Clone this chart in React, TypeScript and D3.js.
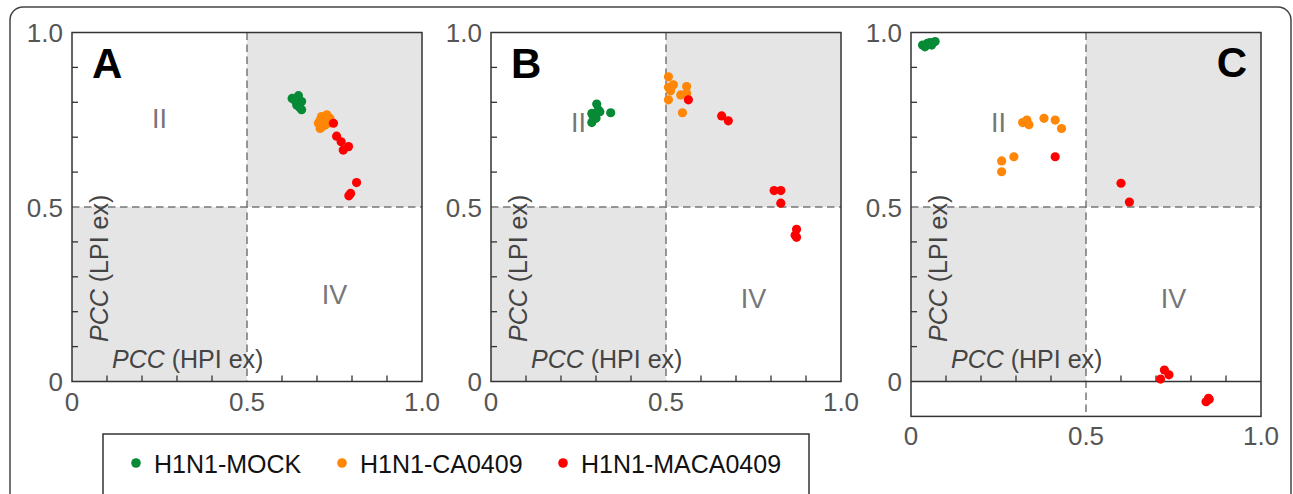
import { useMemo } from "react";
import * as d3 from "d3";

// series order: MOCK, CA0409, MACA0409
const SERIES = ["H1N1-MOCK", "H1N1-CA0409", "H1N1-MACA0409"];
const COLORS = ["#078a36", "#ff8606", "#ff0000"];

// panel A : [PCC HPI ex, PCC LPI ex]
const aMock = [[0.629, 0.811], [0.647, 0.819], [0.656, 0.802], [0.642, 0.792], [0.656, 0.779], [0.637, 0.805], [0.650, 0.786]];
const aCa = [[0.709, 0.725], [0.704, 0.740], [0.713, 0.759], [0.728, 0.764], [0.737, 0.754], [0.723, 0.735], [0.709, 0.749], [0.718, 0.745], [0.732, 0.740], [0.715, 0.730], [0.725, 0.752]];
const aMaca = [[0.747, 0.740], [0.756, 0.703], [0.769, 0.687], [0.775, 0.663], [0.790, 0.673], [0.813, 0.570], [0.796, 0.539], [0.791, 0.532]];

// panel B
const bMock = [[0.302, 0.795], [0.288, 0.768], [0.292, 0.759], [0.307, 0.778], [0.311, 0.773], [0.288, 0.742], [0.342, 0.770], [0.297, 0.765], [0.300, 0.754]];
const bCa = [[0.507, 0.873], [0.507, 0.843], [0.521, 0.850], [0.513, 0.833], [0.559, 0.845], [0.559, 0.826], [0.542, 0.821], [0.507, 0.807], [0.547, 0.770]];
const bMaca = [[0.564, 0.807], [0.659, 0.761], [0.678, 0.747], [0.809, 0.547], [0.828, 0.547], [0.828, 0.511], [0.873, 0.436], [0.869, 0.419], [0.873, 0.413]];

// panel C
const cMock = [[0.033, 0.964], [0.047, 0.969], [0.059, 0.964], [0.069, 0.974], [0.040, 0.959], [0.054, 0.971]];
const cCa = [[0.259, 0.632], [0.259, 0.601], [0.294, 0.644], [0.319, 0.742], [0.331, 0.749], [0.337, 0.736], [0.380, 0.754], [0.412, 0.749], [0.430, 0.725]];
const cMaca = [[0.412, 0.644], [0.600, 0.568], [0.624, 0.514], [0.713, 0.007], [0.724, 0.033], [0.737, 0.019], [0.843, -0.058], [0.850, -0.048], [0.852, -0.051]];

const PANEL_LETTERS = ["A", "B", "C"];
const Y_MIN = [0, 0, -0.1];
const PANEL_DATA = [
  [aMock, aCa, aMaca],
  [bMock, bCa, bMaca],
  [cMock, cCa, cMaca],
];
// quadrant label spots, in data units
const QUAD_II = [[0.25, 0.726], [0.25, 0.716], [0.25, 0.716]];
const QUAD_IV = [[0.75, 0.222], [0.75, 0.212], [0.75, 0.212]];

const MAJOR = [0, 0.5, 1];
const MAJOR_LABELS = ["0", "0.5", "1.0"];
const MINOR = [0.1, 0.2, 0.3, 0.4, 0.6, 0.7, 0.8, 0.9];

const PANEL_X = [72, 491, 911];
const PW = 350;
const TOP = 32.5;
const ZERO_Y = 381.5;
const FONT = "'Liberation Sans', Arial, sans-serif";

const Panel = ({ idx }: { idx: number }) => {
  const left = PANEL_X[idx];
  const x = useMemo(() => d3.scaleLinear().domain([0, 1]).range([left, left + PW]), [left]);
  const y = useMemo(() => d3.scaleLinear().domain([0, 1]).range([ZERO_Y, TOP]), []);
  const yMin = Y_MIN[idx];
  const bottom = y(yMin);
  const xAxisY = y(0);
  const data = PANEL_DATA[idx];

  return (
    <g>
      {/* shaded quadrants I and III */}
      <rect x={x(0.5)} y={y(1)} width={x(1) - x(0.5)} height={y(0.5) - y(1)} fill="#e5e5e5" />
      <rect x={x(0)} y={y(0.5)} width={x(0.5) - x(0)} height={y(0) - y(0.5)} fill="#e5e5e5" />

      {/* dashed dividers */}
      <line x1={x(0.5)} x2={x(0.5)} y1={y(1)} y2={bottom} stroke="#777" strokeWidth={1.5} strokeDasharray="7.5,4.5" />
      <line x1={x(0)} x2={x(1)} y1={y(0.5)} y2={y(0.5)} stroke="#777" strokeWidth={1.5} strokeDasharray="7.5,4.5" />

      {/* zero line when the axis goes below 0 */}
      {yMin < 0 && <line x1={x(0)} x2={x(1)} y1={xAxisY} y2={xAxisY} stroke="#333" strokeWidth={1.4} />}

      {/* minor ticks */}
      {MINOR.map((v) => (
        <line key={"yt" + v} x1={x(0)} x2={x(0) + 6} y1={y(v)} y2={y(v)} stroke="#333" strokeWidth={1.3} />
      ))}
      {MINOR.map((v) => (
        <line key={"xt" + v} x1={x(v)} x2={x(v)} y1={xAxisY} y2={xAxisY - 6} stroke="#333" strokeWidth={1.3} />
      ))}

      {/* frame */}
      <rect x={x(0)} y={y(1)} width={PW} height={bottom - y(1)} fill="none" stroke="#333" strokeWidth={1.5} />

      {/* tick labels */}
      {MAJOR.map((v, i) => (
        <text key={"yl" + v} x={x(0) - 9} y={y(v) + 9.5} textAnchor="end" fontSize={26} fill="#555" fontFamily={FONT}>
          {MAJOR_LABELS[i]}
        </text>
      ))}
      {MAJOR.map((v, i) => (
        <text key={"xl" + v} x={x(v)} y={bottom + 29} textAnchor="middle" fontSize={26} fill="#555" fontFamily={FONT}>
          {MAJOR_LABELS[i]}
        </text>
      ))}

      {/* quadrant labels */}
      <text x={x(QUAD_II[idx][0])} y={y(QUAD_II[idx][1])} textAnchor="middle" fontSize={27} fill="#777" fontFamily={FONT}>II</text>
      <text x={x(QUAD_IV[idx][0])} y={y(QUAD_IV[idx][1])} textAnchor="middle" fontSize={27} fill="#777" fontFamily={FONT}>IV</text>

      {/* axis titles */}
      <text x={left + 40} y={368} fontSize={25} fill="#444" fontFamily={FONT}>
        <tspan fontStyle="italic">PCC</tspan> (HPI ex)
      </text>
      <text transform={`translate(${left + 36},342) rotate(-90)`} fontSize={25} fill="#444" fontFamily={FONT}>
        <tspan fontStyle="italic">PCC</tspan> (LPI ex)
      </text>

      {/* points */}
      {data.map((pts, s) =>
        pts.map((p, j) => (
          <circle key={s + "-" + j} cx={x(p[0])} cy={y(p[1])} r={4.6} fill={COLORS[s]} />
        ))
      )}

      {/* panel letter */}
      {idx < 2 ? (
        <text x={left + 20} y={78} fontSize={42} fontWeight="bold" fill="#000" fontFamily={FONT}>{PANEL_LETTERS[idx]}</text>
      ) : (
        <text x={left + PW - 14} y={77} textAnchor="end" fontSize={42} fontWeight="bold" fill="#000" fontFamily={FONT}>{PANEL_LETTERS[idx]}</text>
      )}
    </g>
  );
};

const LEGEND_DOT_X = [136, 342, 563];

export default function App() {
  return (
    <svg width={1293} height={494} style={{ position: "absolute", left: 0, top: 0, background: "#fff" }}>
      <rect x={10} y={7} width={1281} height={560} rx={13} fill="#fff" stroke="#444" strokeWidth={1.5} />
      {[0, 1, 2].map((i) => (
        <Panel key={i} idx={i} />
      ))}
      <rect x={103} y={434} width={706} height={120} fill="#fff" stroke="#333" strokeWidth={1.5} />
      {SERIES.map((name, i) => (
        <g key={name}>
          <circle cx={LEGEND_DOT_X[i]} cy={463} r={4.8} fill={COLORS[i]} />
          <text x={LEGEND_DOT_X[i] + 18} y={473} fontSize={25} fill="#111" fontFamily={FONT}>{name}</text>
        </g>
      ))}
    </svg>
  );
}
